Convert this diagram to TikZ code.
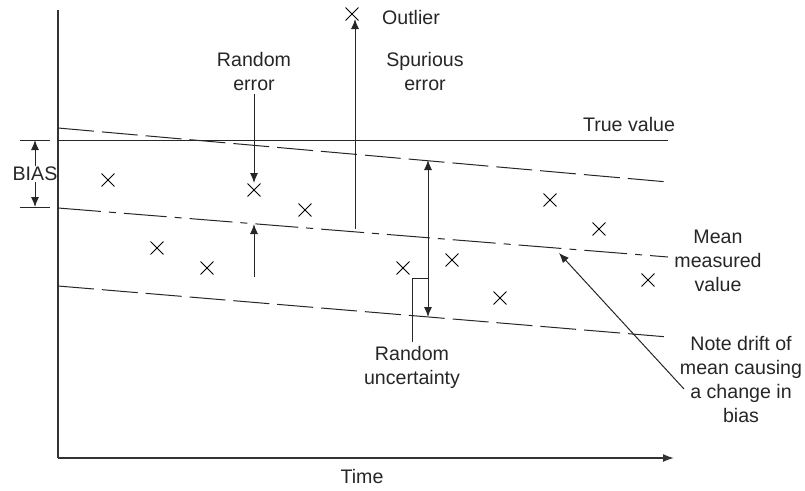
\documentclass[tikz,border=0pt]{standalone}
\usepackage{fontspec}
\setmainfont{Liberation Sans}
\usetikzlibrary{arrows.meta, positioning, shapes.misc}

\begin{document}
\begin{tikzpicture}[
    x=1pt, y=-1pt,
    every node/.style={font=\fontsize{19.6}{24}\selectfont, align=center, text=black!85},
    line/.style={draw, line width=1pt, black!85},
    axis/.style={draw, line width=1.6pt, black!80},
    arrow/.style={draw, line width=1pt, black!85, -{Latex[length=10pt,width=8pt]}},
    longdash/.style={line, dash pattern=on 36pt off 8pt},
    dashdot/.style={line, dash pattern=on 43pt off 8pt on 7pt off 8pt},
    xmark/.style={cross out, draw, line width=0.9pt, minimum size=12pt, inner sep=0pt}
]
    \useasboundingbox (0,0) rectangle (805,490);

    % Axes
    \coordinate (origin) at (58,458);
    \coordinate (ytop) at (58,10);
    \coordinate (xend) at (674,458);
    \draw[axis] (ytop) -- (origin);
    \draw[axis, -{Latex[length=11pt,width=8pt]}] (origin) -- (xend);
    \node (time) at (362,476) {Time};

    % Reference lines
    \coordinate (tv1) at (58,140);
    \coordinate (tv2) at (668,140);
    \coordinate (up1) at (58,128);
    \coordinate (up2) at (668,182);
    \coordinate (mn1) at (58,208);
    \coordinate (mn2) at (668,257);
    \coordinate (lo1) at (58,286);
    \coordinate (lo2) at (668,337);
    \draw[line] (tv1) -- (tv2);
    \draw[longdash] (up1) -- (up2);
    \draw[dashdot] (mn1) -- (mn2);
    \draw[longdash] (lo1) -- (lo2);
    \node (truevalue) at (629,124) {True value};
    \node (mean) at (718,261) {Mean\\measured\\value};

    % Bias
    \coordinate (bt1) at (20,140);
    \coordinate (bt2) at (50,140);
    \coordinate (bb1) at (20,207);
    \coordinate (bb2) at (50,207);
    \draw[line] (bt1) -- (bt2);
    \draw[line] (bb1) -- (bb2);
    \node[inner sep=1pt] (bias) at (35,174) {BIAS};
    \draw[arrow] (bias.north) -- (bias.north |- bt1);
    \draw[arrow] (bias.south) -- (bias.south |- bb1);

    % Readings
    \foreach \px/\py [count=\i] in {108/180, 157/248, 207/268, 254/190, 305/210, 403/268,
                                   452/260, 500/298, 550/200, 599/229, 648/280}
        \node[xmark] (pt\i) at (\px,\py) {};
    \node[xmark] (outlier) at (352,14) {};
    \node (outlierlabel) at (411,17) {Outlier};

    % Random error
    \node (randerr) at (254,71) {Random\\error};
    \coordinate (reup) at (254,183);
    \coordinate (relo) at (254,224);
    \coordinate (relobase) at (254,277);
    \draw[arrow] (randerr.south) -- (reup);
    \draw[arrow] (relobase) -- (relo);

    % Spurious error
    \node (spurious) at (425,71) {Spurious\\error};
    \coordinate (spbase) at (355,229);
    \coordinate (sptip) at (355,19);
    \draw[arrow] (spbase) -- (sptip);

    % Uncertainty
    \coordinate (untop) at (428,160);
    \coordinate (unbot) at (428,317);
    \coordinate (unknee) at (428,278);
    \draw[arrow, {Latex[length=10pt,width=8pt]}-{Latex[length=10pt,width=8pt]}] (untop) -- (unbot);
    \node (uncert) at (412,367) {Random\\uncertainty};
    \draw[line] (unknee) -| (uncert.north);

    % Drift note
    \node (drift) at (741,379) {Note drift of\\mean causing\\a change in\\bias};
    \coordinate (drtip) at (559,253);
    \coordinate (drbase) at (684,389);
    \draw[arrow] (drbase) -- (drtip);
\end{tikzpicture}
\end{document}
